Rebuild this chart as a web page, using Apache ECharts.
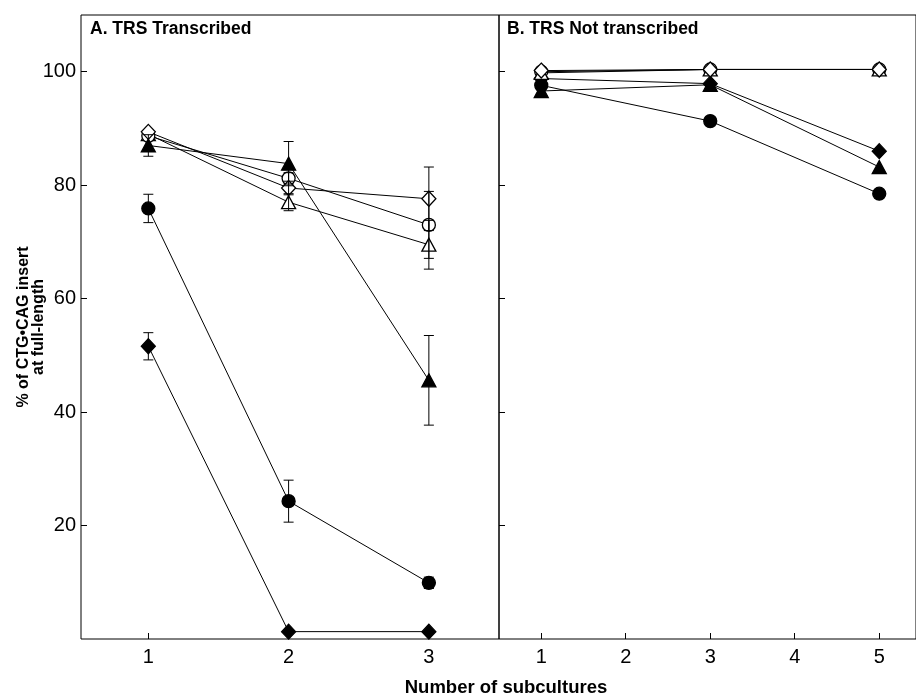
<!DOCTYPE html>
<html>
<head>
<meta charset="utf-8">
<script src="https://cdn.jsdelivr.net/npm/echarts@6/dist/echarts.min.js"></script>
<style>html,body{margin:0;padding:0;background:#fff}#c{width:916px;height:698px}</style>
</head>
<body>
<div id="c"></div>
<script>
// ---- Data ----
const xA = [1, 2, 3];
const xB = [1, 3, 5];
const yTicks = [20, 40, 60, 80, 100];
const xTicksA = [1, 2, 3];
const xTicksB = [1, 2, 3, 4, 5];

// Panel A: TRS transcribed
const aOpenDiamond = [89.4, 79.5, 77.6];
const aOpenCircle = [88.7, 81.2, 73.0];
const aOpenTriangle = [89.0, 77.0, 69.5];
const aFilledTriangle = [87.0, 83.8, 45.6];
const aFilledCircle = [75.9, 24.3, 9.9];
const aFilledDiamond = [51.6, 1.3, 1.3];
// Panel A error (+/-)
const aErrOpenDiamond = [0, 1.2, 5.6];
const aErrOpenCircle = [0, 1.0, 5.9];
const aErrOpenTriangle = [0, 1.5, 4.3];
const aErrFilledTriangle = [1.9, 3.9, 7.9];
const aErrFilledCircle = [2.5, 3.7, 1.0];
const aErrFilledDiamond = [2.4, 0, 0];

// Panel B: TRS not transcribed
const bOpenDiamond = [100.2, 100.4, 100.4];
const bOpenCircle = [100.0, 100.4, 100.4];
const bOpenTriangle = [99.8, 100.4, 100.4];
const bFilledDiamond = [98.8, 97.9, 86.0];
const bFilledTriangle = [96.6, 97.7, 83.2];
const bFilledCircle = [97.6, 91.3, 78.5];

// ---- Chart ----
const FONT = 'Liberation Sans, Arial, Helvetica, sans-serif';
const chart = echarts.init(document.getElementById('c'), null, {renderer: 'canvas'});

const markers = {
  openDiamond: {symbol: 'diamond', size: [14, 15], fill: '#fff'},
  openCircle: {symbol: 'circle', size: 13, fill: '#fff'},
  openTriangle: {symbol: 'triangle', size: [14, 13], fill: '#fff'},
  filledTriangle: {symbol: 'triangle', size: [14, 13], fill: '#000'},
  filledCircle: {symbol: 'circle', size: 13, fill: '#000'},
  filledDiamond: {symbol: 'diamond', size: [14, 15], fill: '#000'}
};

function lineSeries(name, xs, ys, m, gi) {
  const mk = markers[m];
  return {
    name: name, type: 'line', xAxisIndex: gi, yAxisIndex: gi,
    data: xs.map((x, i) => [x, ys[i]]),
    symbol: mk.symbol, symbolSize: mk.size, showSymbol: true,
    lineStyle: {color: '#000', width: 1},
    itemStyle: {color: mk.fill, borderColor: '#000', borderWidth: 1.3},
    z: 3, silent: true, animation: false
  };
}

function errSeries(xs, ys, es, gi) {
  const d = [];
  xs.forEach((x, i) => { if (es[i] > 0) d.push([x, ys[i] - es[i], ys[i] + es[i]]); });
  return {
    type: 'custom', xAxisIndex: gi, yAxisIndex: gi, z: 5, silent: true, animation: false,
    data: d,
    renderItem: function (params, api) {
      const x = api.value(0);
      const lo = api.coord([x, api.value(1)]);
      const hi = api.coord([x, api.value(2)]);
      const w = 5;
      const st = {stroke: '#000', lineWidth: 1};
      return {type: 'group', children: [
        {type: 'line', shape: {x1: lo[0], y1: lo[1], x2: hi[0], y2: hi[1]}, style: st},
        {type: 'line', shape: {x1: lo[0] - w, y1: lo[1], x2: lo[0] + w, y2: lo[1]}, style: st},
        {type: 'line', shape: {x1: hi[0] - w, y1: hi[1], x2: hi[0] + w, y2: hi[1]}, style: st}
      ]};
    }
  };
}

const tickCommon = {inside: true, length: 6, lineStyle: {color: '#000', width: 1}};
const labelCommon = {color: '#000', fontFamily: FONT, fontSize: 20};

const option = {
  backgroundColor: '#fff',
  animation: false,
  grid: [
    {left: 81, top: 15, width: 418, height: 624, show: true, borderColor: '#000', borderWidth: 1, backgroundColor: 'transparent'},
    {left: 499, top: 15, right: -3, height: 624, show: true, borderColor: '#000', borderWidth: 1, backgroundColor: 'transparent'}
  ],
  xAxis: [
    {gridIndex: 0, type: 'value', min: 0.52, max: 3.5,
     axisLine: {show: false}, splitLine: {show: false},
     axisTick: Object.assign({customValues: xTicksA}, tickCommon),
     axisLabel: Object.assign({customValues: xTicksA, margin: 8}, labelCommon)},
    {gridIndex: 1, type: 'value', min: 0.5, max: 5.435,
     axisLine: {show: false}, splitLine: {show: false},
     axisTick: Object.assign({customValues: xTicksB}, tickCommon),
     axisLabel: Object.assign({customValues: xTicksB, margin: 8}, labelCommon)}
  ],
  yAxis: [
    {gridIndex: 0, type: 'value', min: 0, max: 110,
     axisLine: {show: false}, splitLine: {show: false},
     axisTick: Object.assign({customValues: yTicks}, tickCommon),
     axisLabel: Object.assign({customValues: yTicks, margin: 5}, labelCommon)},
    {gridIndex: 1, type: 'value', min: 0, max: 110,
     axisLine: {show: false}, splitLine: {show: false},
     axisTick: Object.assign({customValues: yTicks}, tickCommon),
     axisLabel: {show: false}}
  ],
  graphic: [
    {type: 'text', left: 90, top: 20, style: {text: 'A. TRS Transcribed', font: 'bold 17.5px ' + FONT, fill: '#000'}},
    {type: 'text', left: 507, top: 20, style: {text: 'B. TRS Not transcribed', font: 'bold 17.5px ' + FONT, fill: '#000'}},
    {type: 'text', x: 506, y: 688, style: {text: 'Number of subcultures', font: 'bold 18.5px ' + FONT, fill: '#000', align: 'center', verticalAlign: 'middle'}},
    {type: 'text', x: 31, y: 327, rotation: Math.PI / 2,
     style: {text: '% of CTG\u2022CAG insert\nat full-length', font: 'bold 16px ' + FONT, lineHeight: 15, fill: '#000', align: 'center', verticalAlign: 'middle'}}
  ],
  series: [
    lineSeries('A open triangle', xA, aOpenTriangle, 'openTriangle', 0),
    lineSeries('A open circle', xA, aOpenCircle, 'openCircle', 0),
    lineSeries('A open diamond', xA, aOpenDiamond, 'openDiamond', 0),
    lineSeries('A filled triangle', xA, aFilledTriangle, 'filledTriangle', 0),
    lineSeries('A filled circle', xA, aFilledCircle, 'filledCircle', 0),
    lineSeries('A filled diamond', xA, aFilledDiamond, 'filledDiamond', 0),
    errSeries(xA, aOpenDiamond, aErrOpenDiamond, 0),
    errSeries(xA, aOpenCircle, aErrOpenCircle, 0),
    errSeries(xA, aOpenTriangle, aErrOpenTriangle, 0),
    errSeries(xA, aFilledTriangle, aErrFilledTriangle, 0),
    errSeries(xA, aFilledCircle, aErrFilledCircle, 0),
    errSeries(xA, aFilledDiamond, aErrFilledDiamond, 0),
    lineSeries('B filled triangle', xB, bFilledTriangle, 'filledTriangle', 1),
    lineSeries('B filled circle', xB, bFilledCircle, 'filledCircle', 1),
    lineSeries('B filled diamond', xB, bFilledDiamond, 'filledDiamond', 1),
    lineSeries('B open circle', xB, bOpenCircle, 'openCircle', 1),
    lineSeries('B open triangle', xB, bOpenTriangle, 'openTriangle', 1),
    lineSeries('B open diamond', xB, bOpenDiamond, 'openDiamond', 1)
  ]
};
chart.setOption(option);
</script>
</body>
</html>
